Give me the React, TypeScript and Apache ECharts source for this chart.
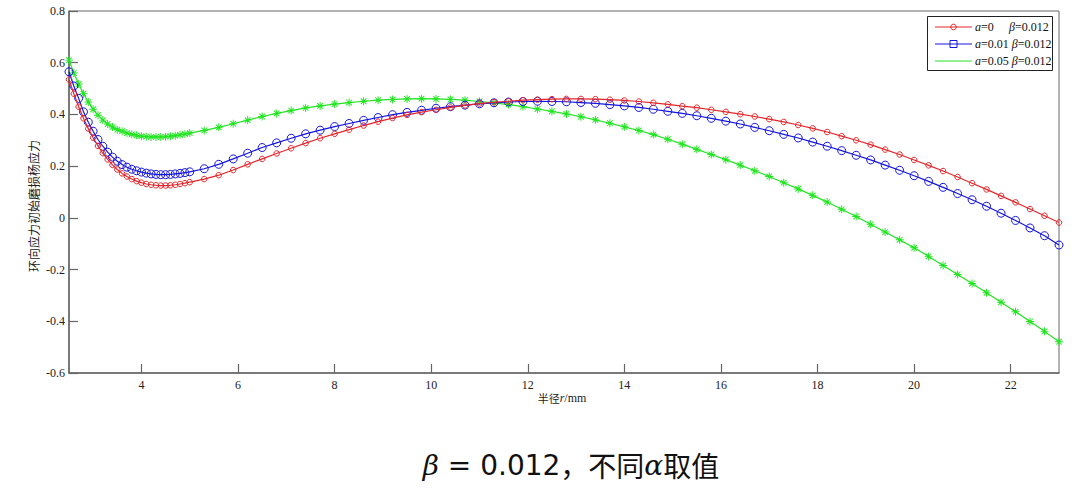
import React, { useEffect, useRef } from "react";
import * as echarts from "echarts";

// radius r (mm)
const radius: number[] = [
  2.5, 2.6, 2.7, 2.8, 2.9, 3.0, 3.1, 3.2, 3.3, 3.4, 3.5, 3.6, 3.7, 3.8, 3.9, 4.0, 4.1, 4.2, 4.3, 4.4, 4.5, 4.6, 4.7, 4.8, 4.9,
  5.0, 5.3, 5.6, 5.9, 6.2, 6.5, 6.8, 7.1, 7.4, 7.7, 8.0, 8.3, 8.6, 8.9, 9.2, 9.5, 9.8, 10.1, 10.4, 10.7,
  11.0, 11.3, 11.6, 11.9, 12.2, 12.5, 12.8, 13.1, 13.4, 13.7, 14.0, 14.3, 14.6, 14.9, 15.2, 15.5, 15.8, 16.1,
  16.4, 16.7, 17.0, 17.3, 17.6, 17.9, 18.2, 18.5, 18.8, 19.1, 19.4, 19.7, 20.0, 20.3, 20.6, 20.9, 21.2, 21.5,
  21.8, 22.1, 22.4, 22.7, 23.0,
];

// a=0, β=0.012
const seriesA0: number[] = [
  0.535, 0.48, 0.43, 0.385, 0.345, 0.31, 0.278, 0.25, 0.226, 0.205, 0.187, 0.172, 0.16, 0.15, 0.142, 0.136, 0.131, 0.128, 0.126, 0.125, 0.125, 0.126, 0.128, 0.131, 0.134,
  0.138, 0.15, 0.165, 0.185, 0.207, 0.228, 0.249, 0.269, 0.289, 0.308, 0.325, 0.341, 0.357, 0.372, 0.386, 0.398, 0.409, 0.418, 0.427, 0.435,
  0.442, 0.447, 0.451, 0.455, 0.457, 0.459, 0.46, 0.46, 0.459, 0.457, 0.454, 0.45, 0.445, 0.439, 0.432, 0.426, 0.418, 0.41,
  0.401, 0.392, 0.382, 0.371, 0.359, 0.346, 0.332, 0.316, 0.3, 0.283, 0.264, 0.245, 0.224, 0.203, 0.181, 0.158, 0.134, 0.11,
  0.085, 0.06, 0.034, 0.008, -0.018,
];

// a=0.01, β=0.012
const seriesA001: number[] = [
  0.565, 0.51, 0.462, 0.41, 0.37, 0.335, 0.303, 0.277, 0.254, 0.235, 0.219, 0.206, 0.196, 0.188, 0.182, 0.177, 0.173, 0.17, 0.168, 0.167, 0.167, 0.168, 0.17, 0.172, 0.175,
  0.178, 0.19, 0.207, 0.228, 0.25, 0.272, 0.29, 0.308, 0.325, 0.339, 0.353, 0.365, 0.377, 0.388, 0.399, 0.408, 0.416, 0.424, 0.43, 0.436,
  0.441, 0.445, 0.448, 0.45, 0.451, 0.45, 0.449, 0.446, 0.443, 0.438, 0.433, 0.427, 0.42, 0.412, 0.404, 0.395, 0.385, 0.374,
  0.363, 0.35, 0.337, 0.323, 0.309, 0.293, 0.277, 0.26, 0.242, 0.224, 0.204, 0.184, 0.163, 0.141, 0.118, 0.094, 0.07, 0.045,
  0.018, -0.01, -0.039, -0.069, -0.105,
];

// a=0.05, β=0.012
const seriesA005: number[] = [
  0.61, 0.56, 0.518, 0.48, 0.448, 0.42, 0.397, 0.378, 0.363, 0.351, 0.341, 0.335, 0.328, 0.323, 0.319, 0.316, 0.314, 0.313, 0.313, 0.313, 0.314, 0.316, 0.318, 0.321, 0.324,
  0.328, 0.338, 0.35, 0.364, 0.378, 0.392, 0.404, 0.415, 0.425, 0.433, 0.44, 0.446, 0.451, 0.455, 0.458, 0.46, 0.461, 0.46, 0.458, 0.455,
  0.45, 0.445, 0.438, 0.43, 0.421, 0.412, 0.402, 0.391, 0.379, 0.366, 0.352, 0.338, 0.322, 0.304, 0.285, 0.265, 0.245, 0.225,
  0.204, 0.182, 0.16, 0.136, 0.112, 0.087, 0.061, 0.033, 0.005, -0.025, -0.055, -0.085, -0.116, -0.149, -0.184, -0.219, -0.254, -0.29,
  -0.326, -0.363, -0.401, -0.439, -0.479,
];

const xTickValues: number[] = [4, 6, 8, 10, 12, 14, 16, 18, 20, 22];

const RED = "#e3262b";
const BLUE = "#1414e0";
const GREEN = "#22e522";
const AXIS = "#666666";
const SERIF = "Liberation Serif";
const CJK = "Noto Sans CJK SC";

const STAR =
  "path://M4.4 0L5.6 0L5.6 10L4.4 10Z M0 4.4L10 4.4L10 5.6L0 5.6Z M1.08 1.92L1.92 1.08L8.92 8.08L8.08 8.92Z M8.08 1.08L8.92 1.92L1.92 8.92L1.08 8.08Z";

function pairs(ys: number[]): number[][] {
  return radius.map((x, i) => [x, ys[i]]);
}

function starLines(cx: number, cy: number, r: number, color: string) {
  const d = r * 0.72;
  const segs = [
    [cx - r, cy, cx + r, cy],
    [cx, cy - r, cx, cy + r],
    [cx - d, cy - d, cx + d, cy + d],
    [cx - d, cy + d, cx + d, cy - d],
  ];
  return segs.map((s) => ({
    type: "line",
    shape: { x1: s[0], y1: s[1], x2: s[2], y2: s[3] },
    style: { stroke: color, lineWidth: 1.3 },
  }));
}

export default function App() {
  const ref = useRef<HTMLDivElement>(null);

  useEffect(() => {
    document.body.style.margin = "0";
    if (!ref.current) return;
    const chart = echarts.init(ref.current, undefined, { renderer: "svg" });

    const rowY = [27, 44, 61];
    const lx1 = 935;
    const lx2 = 972;
    const lcx = 953.5;
    const tx = 975;
    const legendText = { fontFamily: SERIF, fontSize: 12, fill: "#111" };
    const richI = { i: { fontStyle: "italic", fontFamily: SERIF, fontSize: 12, fill: "#111" } };

    const option: any = {
      animation: false,
      backgroundColor: "#ffffff",
      grid: {
        left: 69,
        right: 21,
        top: 11,
        bottom: 123,
        show: true,
        borderColor: AXIS,
        borderWidth: 1,
        containLabel: false,
      },
      xAxis: {
        type: "value",
        min: 2.5,
        max: 23,
        axisLine: { show: true, onZero: false, lineStyle: { color: AXIS, width: 1.5 } },
        axisTick: { show: true, inside: true, length: 9, customValues: xTickValues, lineStyle: { color: AXIS, width: 1.2 } },
        axisLabel: { customValues: xTickValues, margin: 6, color: "#222", fontFamily: SERIF, fontSize: 12 },
        splitLine: { show: false },
      },
      yAxis: {
        type: "value",
        min: -0.6,
        max: 0.8,
        interval: 0.2,
        axisLine: { show: true, onZero: false, lineStyle: { color: AXIS, width: 1.5 } },
        axisTick: { show: true, inside: true, length: 9, lineStyle: { color: AXIS, width: 1.2 } },
        axisLabel: {
          margin: 4,
          color: "#222",
          fontFamily: SERIF,
          fontSize: 12,
          formatter: (v: number) => {
            const r = Math.round(v * 10) / 10;
            return r === 0 ? "0" : String(r);
          },
        },
        splitLine: { show: false },
      },
      series: [
        {
          name: "a=0 β=0.012",
          type: "line",
          data: pairs(seriesA0),
          symbol: "circle",
          symbolSize: 5.5,
          lineStyle: { color: RED, width: 1.2 },
          itemStyle: { color: "rgba(0,0,0,0)", borderColor: RED, borderWidth: 1 },
          z: 3,
        },
        {
          name: "a=0.01 β=0.012",
          type: "line",
          data: pairs(seriesA001),
          symbol: "circle",
          symbolSize: 8,
          lineStyle: { color: BLUE, width: 1.2 },
          itemStyle: { color: "rgba(0,0,0,0)", borderColor: BLUE, borderWidth: 1 },
          z: 2,
        },
        {
          name: "a=0.05 β=0.012",
          type: "line",
          data: pairs(seriesA005),
          symbol: STAR,
          symbolSize: 8,
          lineStyle: { color: GREEN, width: 1.2 },
          itemStyle: { color: GREEN, borderWidth: 0 },
          z: 1,
        },
      ],
      graphic: [
        // legend box
        {
          type: "rect",
          shape: { x: 927.5, y: 16.5, width: 125, height: 54 },
          style: { fill: "#fff", stroke: "#222", lineWidth: 1 },
          z: 10,
        },
        { type: "line", shape: { x1: lx1, y1: rowY[0], x2: lx2, y2: rowY[0] }, style: { stroke: RED, lineWidth: 1.2 }, z: 11 },
        { type: "circle", shape: { cx: lcx, cy: rowY[0], r: 2.8 }, style: { fill: "none", stroke: RED, lineWidth: 1 }, z: 11 },
        { type: "line", shape: { x1: lx1, y1: rowY[1], x2: lx2, y2: rowY[1] }, style: { stroke: BLUE, lineWidth: 1.2 }, z: 11 },
        { type: "rect", shape: { x: lcx - 3.5, y: rowY[1] - 3.5, width: 7, height: 7 }, style: { fill: "none", stroke: BLUE, lineWidth: 1 }, z: 11 },
        { type: "line", shape: { x1: lx1, y1: rowY[2], x2: lx2, y2: rowY[2] }, style: { stroke: GREEN, lineWidth: 1.2 }, z: 11 },
        { type: "group", z: 11, children: starLines(lcx, rowY[2], 4, GREEN) },
        {
          type: "text",
          x: tx,
          y: rowY[0],
          z: 11,
          style: { ...legendText, text: "{i|a}=0", rich: richI, verticalAlign: "middle" },
        },
        {
          type: "text",
          x: 1009,
          y: rowY[0],
          z: 11,
          style: { ...legendText, text: "{i|β}=0.012", rich: richI, verticalAlign: "middle" },
        },
        {
          type: "text",
          x: tx,
          y: rowY[1],
          z: 11,
          style: { ...legendText, text: "{i|a}=0.01 {i|β}=0.012", rich: richI, verticalAlign: "middle" },
        },
        {
          type: "text",
          x: tx,
          y: rowY[2],
          z: 11,
          style: { ...legendText, text: "{i|a}=0.05 {i|β}=0.012", rich: richI, verticalAlign: "middle" },
        },
        // y-axis name
        {
          type: "text",
          x: 33,
          y: 206,
          rotation: Math.PI / 2,
          style: {
            text: "环向应力初始磨损杨应力",
            fontFamily: CJK,
            fontSize: 12,
            fill: "#222",
            align: "center",
            verticalAlign: "middle",
          },
        },
        // x-axis name
        {
          type: "text",
          x: 562,
          y: 398,
          style: {
            text: "半径{r|r}{s|/mm}",
            fontFamily: CJK,
            fontSize: 11,
            fill: "#222",
            align: "center",
            verticalAlign: "middle",
            rich: {
              r: { fontFamily: SERIF, fontStyle: "italic", fontSize: 12, fill: "#222" },
              s: { fontFamily: SERIF, fontSize: 12, fill: "#222" },
            },
          },
        },
        // caption
        {
          type: "text",
          x: 571,
          y: 465,
          style: {
            text: "{m|β}{n| = 0.012}，不同{m|α}取值",
            fontFamily: CJK,
            fontSize: 28,
            fill: "#111",
            align: "center",
            verticalAlign: "middle",
            rich: {
              m: { fontFamily: "DejaVu Serif", fontStyle: "italic", fontSize: 28, fill: "#111" },
              n: { fontFamily: "DejaVu Sans", fontSize: 28, fill: "#111" },
            },
          },
        },
      ],
    };

    chart.setOption(option);
    return () => {
      chart.dispose();
    };
  }, []);

  return <div ref={ref} style={{ width: 1080, height: 496 }} />;
}
